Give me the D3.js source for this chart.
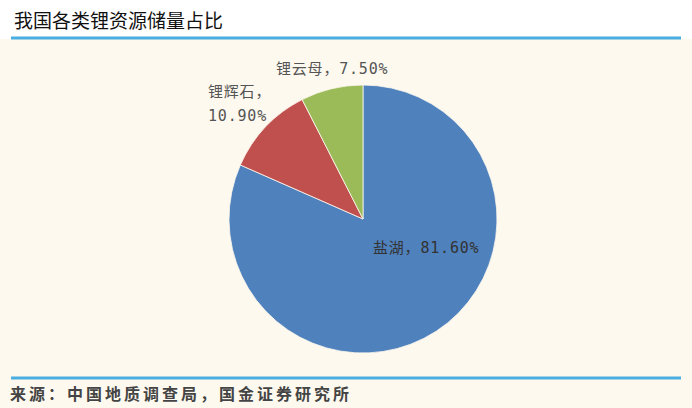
<!DOCTYPE html>
<html>
<head>
<meta charset="utf-8">
<script src="https://cdn.jsdelivr.net/npm/d3@7"></script>
<style>
  html, body { margin: 0; padding: 0; background: #fff; }
  svg { display: block; }
</style>
</head>
<body>
<script>
var width = 692;
var height = 408;

// data
var categories = ["盐湖", "锂辉石", "锂云母"];
var shares = [81.6, 10.9, 7.5];
var colors = ["#4f81bd", "#c0504d", "#9bbb59"];

var svg = d3.select("body")
    .append("svg")
    .attr("width", width)
    .attr("height", height);

// beige panel behind the chart
svg.append("rect")
    .attr("x", 0)
    .attr("y", 39)
    .attr("width", width)
    .attr("height", height - 39)
    .style("fill", "#fef9ef");

svg.append("text")
    .attr("x", 14)
    .attr("y", 28)
    .style("font-family", "'Noto Sans CJK SC', sans-serif")
    .style("font-size", "19px")
    .style("fill", "#111")
    .text("我国各类锂资源储量占比");

svg.append("line")
    .attr("x1", 11).attr("x2", 681)
    .attr("y1", 38).attr("y2", 38)
    .style("stroke", "#4aaee0")
    .style("stroke-width", 3);

svg.append("line")
    .attr("x1", 11).attr("x2", 681)
    .attr("y1", 378).attr("y2", 378)
    .style("stroke", "#4aaee0")
    .style("stroke-width", 3);

svg.append("text")
    .attr("x", 10)
    .attr("y", 400)
    .style("font-family", "'Noto Sans CJK SC', sans-serif")
    .style("font-size", "16px")
    .style("font-weight", "bold")
    .style("letter-spacing", "3px")
    .style("fill", "#444")
    .text("来源：中国地质调查局，国金证券研究所");

var cx = 363, cy = 219, r = 134;

var pie = d3.pie().sort(null).value(function (d) { return d; });
var arc = d3.arc().innerRadius(0).outerRadius(r);
var arcs = pie(shares);

var g = svg.append("g").attr("transform", "translate(" + cx + "," + cy + ")");

g.selectAll("path")
    .data(arcs)
    .enter().append("path")
    .attr("d", arc)
    .style("fill", function (d, i) { return colors[i]; })
    .style("stroke", "#fef9ef")
    .style("stroke-width", 0.8);

// label placement, relative to the pie centre
var labelFont = "'DejaVu Sans Mono', 'Noto Sans CJK SC', monospace";
var labels = [
    { lines: [categories[0] + "，" + shares[0].toFixed(2) + "%"], x: 10, y: 34, fill: "#333" },
    { lines: [categories[1] + "，", shares[1].toFixed(2) + "%"], x: -155, y: -122, fill: "#555" },
    { lines: [categories[2] + "，" + shares[2].toFixed(2) + "%"], x: -87, y: -145, fill: "#555" }
];

labels.forEach(function (lb) {
    var t = g.append("text")
        .attr("x", lb.x)
        .attr("y", lb.y)
        .style("font-family", labelFont)
        .style("font-size", "15px")
        .style("letter-spacing", "0.8px")
        .style("fill", lb.fill);
    lb.lines.forEach(function (s, k) {
        t.append("tspan")
            .attr("x", lb.x)
            .attr("dy", k === 0 ? 0 : 24)
            .text(s);
    });
});
</script>
</body>
</html>
